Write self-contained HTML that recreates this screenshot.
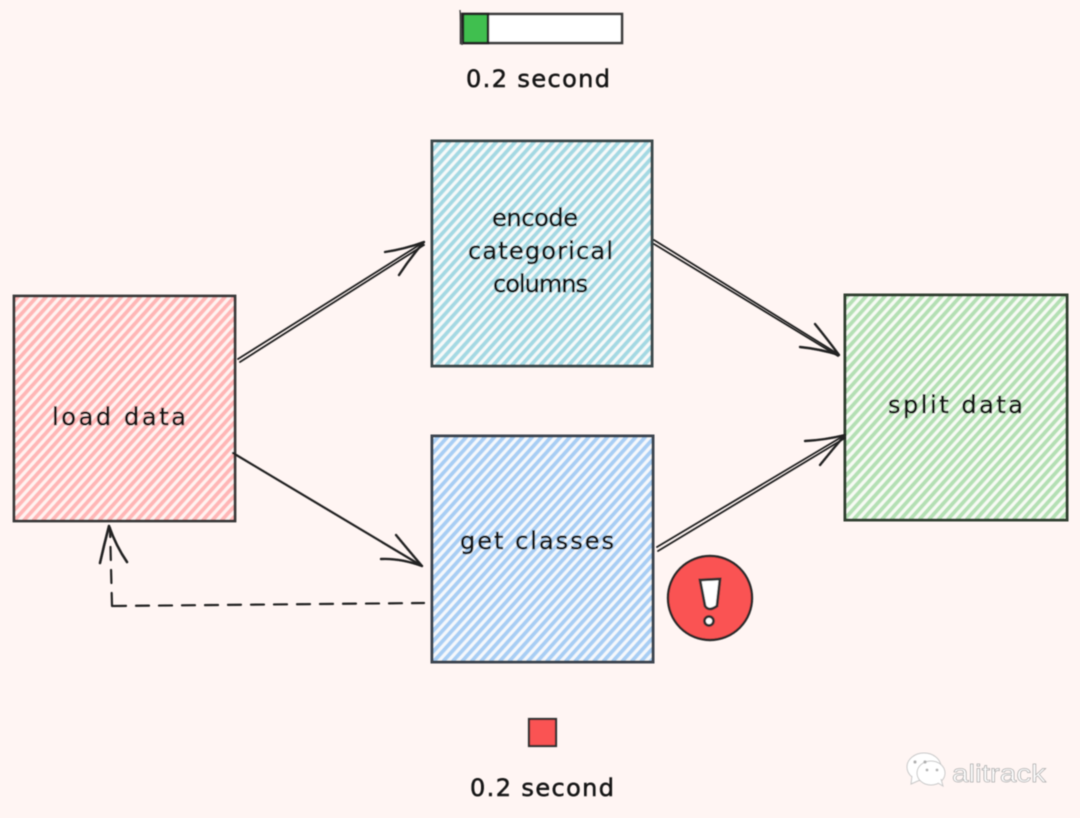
<!DOCTYPE html>
<html>
<head>
<meta charset="utf-8">
<style>
html,body{margin:0;padding:0;background:#fff5f3;width:1080px;height:818px;overflow:hidden}
svg{display:block}
text{font-family:"DejaVu Sans","Liberation Sans",sans-serif;fill:#151515;stroke:#151515;stroke-width:.55}
</style>
</head>
<body>
<svg width="1080" height="818" viewBox="0 0 1080 818" xmlns="http://www.w3.org/2000/svg">
<defs>
<pattern id="hr" width="7" height="7" patternUnits="userSpaceOnUse" patternTransform="rotate(42)"><rect width="7" height="7" fill="#fff3f1"/><rect width="3.8" height="7" fill="#ffb6b6"/></pattern>
<pattern id="ht" width="7" height="7" patternUnits="userSpaceOnUse" patternTransform="rotate(42)"><rect width="7" height="7" fill="#f6f9f9"/><rect width="3.8" height="7" fill="#a4d9e3"/></pattern>
<pattern id="hb" width="7" height="7" patternUnits="userSpaceOnUse" patternTransform="rotate(42)"><rect width="7" height="7" fill="#f5f8fc"/><rect width="3.8" height="7" fill="#a8cef4"/></pattern>
<pattern id="hg" width="7" height="7" patternUnits="userSpaceOnUse" patternTransform="rotate(42)"><rect width="7" height="7" fill="#f7faf4"/><rect width="3.8" height="7" fill="#b4e0b4"/></pattern>
<filter id="soft" x="-2%" y="-2%" width="104%" height="104%"><feGaussianBlur stdDeviation="0.55"/></filter>
</defs>
<rect width="1080" height="818" fill="#fff5f3"/>
<g filter="url(#soft)">

<!-- progress bar -->
<rect x="461" y="14" width="161" height="29" fill="#fff" stroke="#3a3a3a" stroke-width="2.6"/>
<rect x="463" y="14" width="25" height="29" fill="#3fbf50" stroke="#222" stroke-width="2.4"/>
<path d="M460 10 L462 45" stroke="#444" stroke-width="1.4" fill="none"/>
<text x="466" y="87" font-size="24" textLength="144" lengthAdjust="spacing">0.2 second</text>

<!-- boxes -->
<rect x="14" y="296" width="221" height="225" fill="url(#hr)" stroke="#383838" stroke-width="2.8"/>
<rect x="432" y="141" width="220" height="225" fill="url(#ht)" stroke="#3c4a4c" stroke-width="3"/>
<rect x="432" y="436" width="221" height="226" fill="url(#hb)" stroke="#3c4450" stroke-width="3"/>
<rect x="845" y="295" width="222" height="225" fill="url(#hg)" stroke="#334033" stroke-width="3"/>

<!-- labels -->
<text x="52" y="425" font-size="24" textLength="134" lengthAdjust="spacing">load data</text>
<text x="492" y="226" font-size="24" textLength="86" lengthAdjust="spacing">encode</text>
<text x="468" y="259" font-size="24" textLength="145" lengthAdjust="spacing">categorical</text>
<text x="493" y="292" font-size="24" textLength="95" lengthAdjust="spacing">columns</text>
<text x="460" y="549" font-size="24" textLength="154" lengthAdjust="spacing">get classes</text>
<text x="888" y="413" font-size="24" textLength="135" lengthAdjust="spacing">split data</text>

<!-- arrows -->
<g fill="none" stroke="#222" stroke-width="1.8" stroke-linecap="round" stroke-linejoin="round">
<path d="M238 359 L424 242 M240 362 L424 245"/>
<path d="M385 252 Q405 249 424 242 Q410 258 399 275" stroke-width="2.4"/>
<path d="M233 453 L422 566" stroke-width="2.2"/>
<path d="M396 535 Q410 552 422 566 Q400 558 381 559" stroke-width="2.4"/>
<path d="M654 240 L838 354 M654 244 L838 356"/>
<path d="M815 324 Q828 340 839 355 Q820 349 800 347" stroke-width="2.4"/>
<path d="M657 547 L845 435 M658 551 L845 438"/>
<path d="M805 441 Q825 440 845 435 Q832 450 820 465" stroke-width="2.4"/>
<path d="M113 606 L424 603" stroke-dasharray="13 10" stroke-width="2.2"/>
<path d="M112 606 L110 528" stroke-dasharray="13 10" stroke-width="2.2"/>
<path d="M100 563 Q104 545 109 526 Q116 546 127 562" stroke-width="2.6"/>
</g>

<!-- alert -->
<circle cx="710" cy="598" r="42" fill="#fa5252" stroke="#2a2a2a" stroke-width="2.4"/>
<path d="M700 580 L720 579 L717 606 Q709 612 705 606 Z" fill="#fff" stroke="#333" stroke-width="2.8"/>
<circle cx="709" cy="621" r="4.5" fill="#fff" stroke="#333" stroke-width="2.8"/>

<!-- red square -->
<rect x="529" y="719" width="27" height="27" fill="#fa5252" stroke="#333" stroke-width="2.2"/>
<text x="470" y="796" font-size="24" textLength="144" lengthAdjust="spacing">0.2 second</text>
</g>

<!-- watermark -->
<g filter="url(#soft)">
<g fill="#fff" stroke="#c8c8c8" stroke-width="1">
<ellipse cx="924" cy="767" rx="17" ry="14"/>
<path d="M912 776 L911 784 L920 780"/>
<ellipse cx="931" cy="773" rx="14" ry="12"/>
<path d="M938 783 L943 786 L941 779"/>
</g>
<g fill="#b0b0b0">
<circle cx="915" cy="762" r="1.6"/><circle cx="925" cy="762" r="1.6"/>
<circle cx="927" cy="770" r="1.4"/><circle cx="937" cy="770" r="1.4"/>
</g>
<text x="952" y="782" font-size="25" textLength="94" lengthAdjust="spacingAndGlyphs" style="fill:#fff;stroke:#aaa;stroke-width:.7;font-family:'Liberation Sans',sans-serif">alitrack</text>
</g>
</svg>
</body>
</html>
